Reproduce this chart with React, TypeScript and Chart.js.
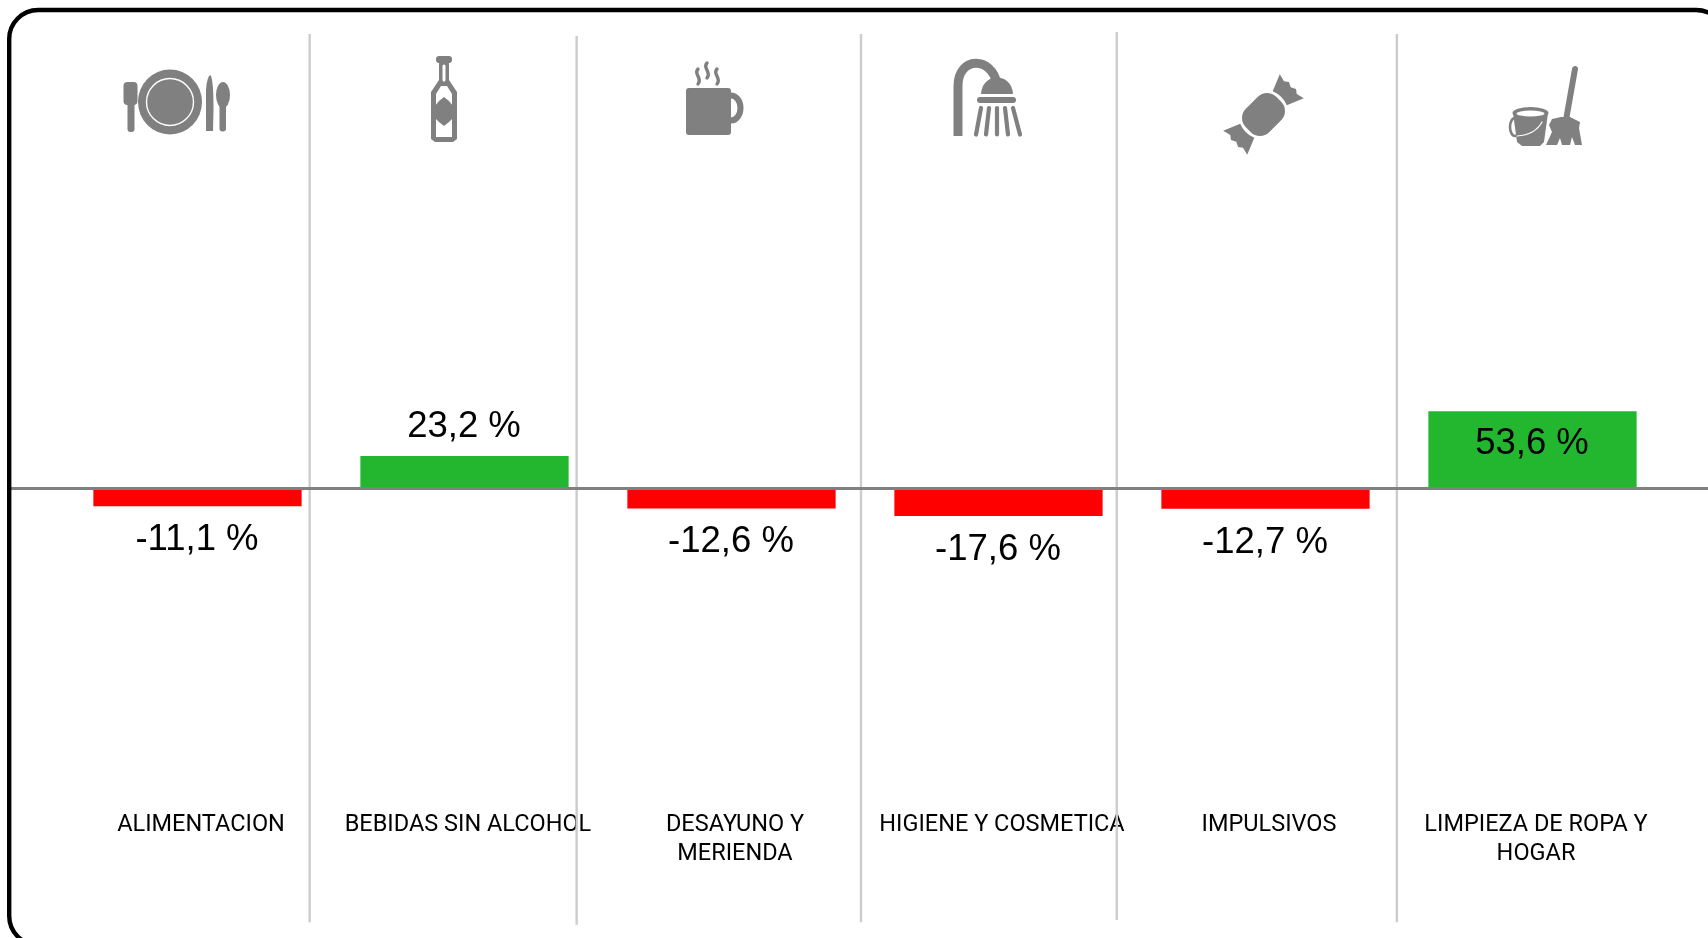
import React, { useEffect, useRef } from "react";
import { Chart, registerables } from "chart.js";

Chart.register(...registerables);

const categories: (string | string[])[] = [
  "ALIMENTACION",
  "BEBIDAS SIN ALCOHOL",
  ["DESAYUNO Y", "MERIENDA"],
  "HIGIENE Y COSMETICA",
  "IMPULSIVOS",
  ["LIMPIEZA DE ROPA Y", "HOGAR"],
];
const values = [-11.1, 23.2, -12.6, -17.6, -12.7, 53.6];
// separators, in category units, with their top and bottom in value units
const separatorAt = [0.42, 1.42, 2.485, 3.443, 4.492];
const separatorTop = [310.2, 308.8, 310.2, 311.6, 310.2];
const separatorBottom = [-294, -295.7, -294, -292.5, -294];

const RED = "#ff0000";
const GREEN = "#23b72f";
const ICON = "#808080";

function drawIcons(c: CanvasRenderingContext2D) {
  c.save();
  c.fillStyle = ICON;
  c.strokeStyle = ICON;
  c.lineCap = "round";
  c.lineJoin = "round";
  const rr = (x: number, y: number, w: number, h: number, r: number) => {
    c.beginPath();
    c.roundRect(x, y, w, h, r);
    c.fill();
  };
  const line = (x1: number, y1: number, x2: number, y2: number, w: number, col = ICON) => {
    c.strokeStyle = col;
    c.lineWidth = w;
    c.beginPath();
    c.moveTo(x1, y1);
    c.lineTo(x2, y2);
    c.stroke();
  };
  const ell = (x: number, y: number, rx: number, ry: number, col = ICON) => {
    c.fillStyle = col;
    c.beginPath();
    c.ellipse(x, y, rx, ry, 0, 0, Math.PI * 2);
    c.fill();
    c.fillStyle = ICON;
  };
  const poly = (pts: number[][], col = ICON) => {
    c.fillStyle = col;
    c.beginPath();
    pts.forEach((p, i) => (i ? c.lineTo(p[0], p[1]) : c.moveTo(p[0], p[1])));
    c.closePath();
    c.fill();
    c.fillStyle = ICON;
  };

  // plate, fork, knife, spoon
  ell(170, 102, 32, 32.5);
  c.strokeStyle = "#ffffff";
  c.lineWidth = 1.4;
  c.beginPath();
  c.arc(170, 102, 23.5, 0, Math.PI * 2);
  c.stroke();
  rr(123.5, 82, 14, 23, 4);
  rr(127.5, 95, 7, 37, 3);
  c.beginPath();
  c.moveTo(206, 131);
  c.lineTo(206, 90);
  c.quadraticCurveTo(207, 76, 210.5, 75);
  c.quadraticCurveTo(213.5, 80, 213.5, 108);
  c.lineTo(213, 131);
  c.closePath();
  c.fill();
  ell(223, 95, 7, 13);
  rr(219.5, 100, 6.5, 31.5, 3);

  // bottle
  rr(436, 56, 16, 7, 3);
  poly([[439, 62], [449, 62], [449, 80], [457, 92], [457, 139], [453, 142], [435, 142], [431, 139], [431, 92], [439, 80]]);
  line(444, 66, 444, 80, 3, "#ffffff");
  poly([[436, 94], [441, 86], [447, 86], [452, 94], [452, 137], [436, 137]], "#ffffff");
  poly([[444, 97], [449, 101], [453, 106], [453, 118], [449, 122], [444, 126], [439, 122], [435, 118], [435, 106], [439, 101]]);

  // mug
  rr(686, 88, 45, 47, 3);
  c.strokeStyle = ICON;
  c.lineWidth = 6;
  c.beginPath();
  c.ellipse(731, 108, 9.5, 12.5, 0, -Math.PI / 2, Math.PI / 2);
  c.stroke();
  c.lineWidth = 3.4;
  const steam = (x: number, top: number) => {
    c.beginPath();
    c.moveTo(x, top);
    c.bezierCurveTo(x - 5, top + 5, x + 5, top + 9, x, top + 15);
    c.stroke();
  };
  steam(698, 69);
  steam(707, 63);
  steam(717, 69);

  // shower
  c.strokeStyle = ICON;
  c.lineWidth = 9;
  c.lineCap = "butt";
  c.beginPath();
  c.moveTo(958, 136);
  c.lineTo(958, 86);
  c.bezierCurveTo(958, 56, 992, 56, 997, 84);
  c.stroke();
  c.lineCap = "round";
  c.beginPath();
  c.moveTo(981, 94);
  c.bezierCurveTo(982, 72, 1012, 72, 1013, 94);
  c.closePath();
  c.fill();
  rr(977, 97, 39, 6, 3);
  const topX = [981, 989, 997, 1005, 1013];
  const botX = [976, 986, 997, 1008, 1020];
  topX.forEach((t, i) => line(t, 108, botX[i], 134.5, 4.2));

  // candy
  c.save();
  c.translate(1263.5, 114.5);
  c.rotate(-Math.PI / 4);
  rr(-21.5, -16.5, 43, 33, 13);
  const wrap = (s: number) => {
    c.fillStyle = ICON;
    c.beginPath();
    c.moveTo(s * 23, -10);
    c.lineTo(s * 40, -17);
    c.lineTo(s * 38, -9);
    c.lineTo(s * 41, -5);
    c.lineTo(s * 38.5, 0);
    c.lineTo(s * 41, 5);
    c.lineTo(s * 38, 9);
    c.lineTo(s * 40, 17);
    c.lineTo(s * 23, 10);
    c.quadraticCurveTo(s * 27, 0, s * 23, -10);
    c.closePath();
    c.fill();
  };
  wrap(1);
  wrap(-1);
  c.restore();

  // bucket
  c.fillStyle = ICON;
  c.strokeStyle = ICON;
  poly([[1513, 113], [1548, 113], [1544, 142], [1540, 146], [1522, 146], [1517, 142]]);
  ell(1530.5, 113, 18, 6);
  ell(1530.5, 113.5, 14, 3, "#ffffff");
  c.lineWidth = 2.6;
  c.beginPath();
  c.ellipse(1515, 127, 5, 9, 0, 0, Math.PI * 2);
  c.stroke();
  c.strokeStyle = "#ffffff";
  c.lineWidth = 1.2;
  c.beginPath();
  c.moveTo(1517, 136);
  c.quadraticCurveTo(1535, 135, 1542, 122);
  c.stroke();
  // mop
  line(1575, 69, 1566, 120, 6);
  poly([
    [1552, 119], [1561, 117], [1570, 117], [1580, 122], [1579, 128], [1582, 145], [1575, 145], [1572, 137],
    [1570, 145], [1562, 145], [1560, 138], [1557, 145], [1546, 145], [1552, 132], [1549, 125],
  ]);
  c.restore();
}

const decor = {
  id: "decor",
  afterDatasetsDraw(chart: any) {
    const c: CanvasRenderingContext2D = chart.ctx;
    const x = chart.scales.x;
    const y = chart.scales.y;

    // separators and zero line
    c.save();
    c.strokeStyle = "#cccccc";
    c.lineWidth = 2.4;
    separatorAt.forEach((s, i) => {
      const px = x.getPixelForValue(s);
      c.beginPath();
      c.moveTo(px, y.getPixelForValue(separatorTop[i]));
      c.lineTo(px, y.getPixelForValue(separatorBottom[i]));
      c.stroke();
    });
    c.strokeStyle = "#808080";
    c.lineWidth = 3;
    c.beginPath();
    c.moveTo(9, y.getPixelForValue(0) - 1.5);
    c.lineTo(chart.width, y.getPixelForValue(0) - 1.5);
    c.stroke();

    // value labels
    c.fillStyle = "#000000";
    c.font = '36.5px "Liberation Sans"';
    c.textAlign = "center";
    c.textBaseline = "middle";
    chart.getDatasetMeta(0).data.forEach((bar: any, i: number) => {
      const v = values[i];
      const text = `${v.toFixed(1).replace(".", ",")} %`;
      const inside = v > 40;
      const offset = v < 0 ? 33.8 : inside ? 33 : -28.5;
      c.fillText(text, bar.x - 0.5, bar.y + offset);
    });

    // frame
    c.strokeStyle = "#000000";
    c.lineWidth = 4.4;
    c.beginPath();
    c.roundRect(9.2, 10, 1716, 935, 29);
    c.stroke();
    c.restore();

    drawIcons(c);
  },
};

export default function App() {
  const ref = useRef<HTMLCanvasElement>(null);
  useEffect(() => {
    const chart = new Chart(ref.current!, {
      type: "bar",
      data: {
        labels: categories as any,
        datasets: [
          {
            data: values,
            backgroundColor: values.map((v) => (v < 0 ? RED : GREEN)),
            barPercentage: 0.78,
            categoryPercentage: 1,
            borderWidth: 0,
          },
        ],
      },
      options: {
        animation: false,
        responsive: false,
        layout: { padding: { left: 64, right: 42, top: 0, bottom: 0 } },
        plugins: { legend: { display: false }, tooltip: { enabled: false } },
        scales: {
          x: {
            grid: { display: false, drawTicks: false },
            border: { display: false },
            afterFit: (s: any) => {
              s.height = 136;
            },
            ticks: {
              autoSkip: false,
              minRotation: 0,
              maxRotation: 0,
              padding: 9,
              labelOffset: 3.5,
              color: "#000000",
              font: { family: "Roboto", size: 23.5, lineHeight: 1.22 },
            },
          },
          y: { display: false, min: -212.2, max: 333.3 },
        },
      },
      plugins: [decor],
    });
    return () => chart.destroy();
  }, []);
  return (
    <canvas
      ref={ref}
      width={1708}
      height={938}
      style={{ position: "absolute", left: 0, top: 0, display: "block" }}
    />
  );
}
